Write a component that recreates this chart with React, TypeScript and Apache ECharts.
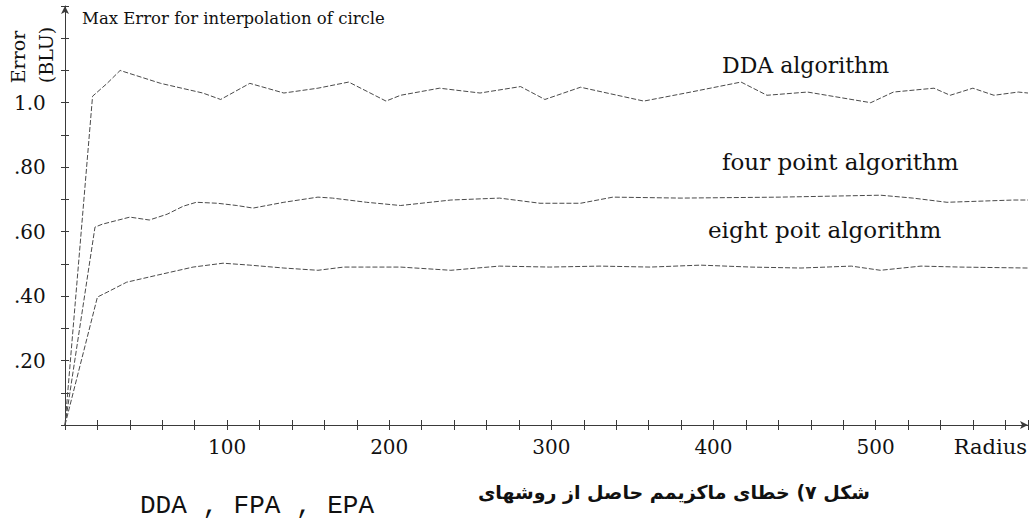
import React, { useEffect, useRef } from "react";
import * as echarts from "echarts";

// ---- data ----
const ddaRadius = [0, 17, 26, 34, 59, 85, 96, 114, 135, 156, 175, 198, 207, 231, 256, 281, 296, 318, 357, 386, 417, 433, 458, 497, 511, 536, 546, 560, 573, 588, 594];
const ddaError = [0, 1.02, 1.06, 1.1, 1.06, 1.03, 1.01, 1.06, 1.03, 1.045, 1.064, 1.005, 1.023, 1.045, 1.03, 1.05, 1.01, 1.048, 1.005, 1.033, 1.064, 1.023, 1.033, 1.0, 1.033, 1.045, 1.023, 1.045, 1.023, 1.033, 1.03];

const fpaRadius = [0, 18.5, 23, 40, 52, 63, 73, 81, 94, 106, 116, 135, 156, 165, 186, 207, 238, 268, 293, 318, 338, 380, 441, 503, 523, 544, 585, 594];
const fpaError = [0, 0.614, 0.623, 0.645, 0.636, 0.654, 0.679, 0.691, 0.688, 0.681, 0.673, 0.691, 0.707, 0.704, 0.691, 0.681, 0.698, 0.704, 0.688, 0.688, 0.707, 0.704, 0.707, 0.713, 0.704, 0.691, 0.698, 0.698];

const epaRadius = [0, 20, 26, 38, 57, 79, 97.5, 114, 135, 156, 172, 186, 207, 238, 268, 299, 330, 361, 392, 423, 454, 485, 503, 528, 552, 594];
const epaError = [0, 0.397, 0.412, 0.443, 0.465, 0.49, 0.502, 0.496, 0.487, 0.48, 0.49, 0.49, 0.49, 0.48, 0.493, 0.49, 0.493, 0.49, 0.496, 0.49, 0.487, 0.493, 0.48, 0.493, 0.49, 0.487];

const xLabelValues = [100, 200, 300, 400, 500];
const yLabelValues = [2, 4, 6, 8, 10]; // tenths
const yLabelTexts = [".20", ".40", ".60", ".80", "1.0"];

const titleText = "Max Error for interpolation of circle";
const yNameLines = ["Error", "(BLU)"];
const xName = "Radius";
const seriesNames = ["DDA algorithm", "four point algorithm", "eight poit algorithm"];
const captionFa = "شکل ۷) خطای ماکزیمم حاصل از روشهای";
const captionEn = "DDA , FPA , EPA";

const SERIF = "'DejaVu Serif', 'Liberation Serif', serif";

function pairs(xs: number[], ys: number[]) {
  return xs.map((x, i) => [x, ys[i]]);
}

export default function App() {
  const ref = useRef<HTMLDivElement>(null);
  useEffect(() => {
    if (!ref.current) return;
    const chart = echarts.init(ref.current, null, { renderer: "svg" });
    const lineStyle = { color: "#4a4a4a", width: 1, type: [5, 2] as any };
    const axisColor = "#3a3a3a";
    const common = { min: 0, type: "value" as const };
    chart.setOption({
      animation: false,
      backgroundColor: "#ffffff",
      title: {
        text: titleText,
        left: 77,
        top: 5,
        textStyle: { fontFamily: SERIF, fontSize: 16.5, fontWeight: "normal", color: "#111" },
      },
      grid: { left: 65, right: 5, top: 6, bottom: 100 },
      xAxis: [
        {
          ...common,
          max: 594,
          interval: 20,
          axisLine: { show: true, lineStyle: { color: axisColor, width: 1 }, symbol: ["none", "arrow"], symbolSize: [6, 8] },
          axisTick: { show: true, inside: false, length: 5, lineStyle: { color: axisColor } },
          splitLine: { show: false },
          axisLabel: {
            margin: 12,
            fontFamily: SERIF,
            fontSize: 20,
            color: "#111",
            formatter: (v: number) => (xLabelValues.indexOf(Math.round(v)) >= 0 ? String(Math.round(v)) : ""),
          },
        },
        {
          ...common,
          max: 594,
          interval: 20,
          position: "bottom",
          axisLine: { show: false },
          axisTick: { show: true, inside: true, length: 5, lineStyle: { color: axisColor } },
          splitLine: { show: false },
          axisLabel: { show: false },
        },
      ],
      yAxis: [
        {
          ...common,
          max: 1.3,
          interval: 0.1,
          axisLine: { show: true, lineStyle: { color: axisColor, width: 1 }, symbol: ["none", "arrow"], symbolSize: [6, 8] },
          axisTick: { show: true, inside: false, length: 4, lineStyle: { color: axisColor } },
          splitLine: { show: false },
          axisLabel: {
            margin: 51,
            align: "left",
            fontFamily: SERIF,
            fontSize: 20,
            color: "#111",
            formatter: (v: number) => {
              const i = yLabelValues.indexOf(Math.round(v * 10));
              return i >= 0 ? yLabelTexts[i] : "";
            },
          },
        },
        {
          ...common,
          max: 1.3,
          interval: 0.1,
          position: "left",
          axisLine: { show: false },
          axisTick: { show: true, inside: true, length: 4, lineStyle: { color: axisColor } },
          splitLine: { show: false },
          axisLabel: { show: false },
        },
      ],
      series: [
        { name: seriesNames[0], type: "line", data: pairs(ddaRadius, ddaError), showSymbol: false, symbol: "none", lineStyle },
        { name: seriesNames[1], type: "line", data: pairs(fpaRadius, fpaError), showSymbol: false, symbol: "none", lineStyle },
        { name: seriesNames[2], type: "line", data: pairs(epaRadius, epaError), showSymbol: false, symbol: "none", lineStyle },
      ],
      graphic: [
        { type: "text", x: 18, y: 57, rotation: Math.PI / 2, style: { text: yNameLines[0], fontFamily: SERIF, fontSize: 19, fill: "#111", textAlign: "center", textVerticalAlign: "middle" } },
        { type: "text", x: 46, y: 55, rotation: Math.PI / 2, style: { text: yNameLines[1], fontFamily: SERIF, fontSize: 19, fill: "#111", textAlign: "center", textVerticalAlign: "middle" } },
        { type: "text", x: 1027, y: 447, style: { text: xName, fontFamily: SERIF, fontSize: 21, fill: "#111", textAlign: "right", textVerticalAlign: "middle" } },
        { type: "text", x: 722, y: 65, style: { text: seriesNames[0], fontFamily: SERIF, fontSize: 22, fill: "#111", textAlign: "left", textVerticalAlign: "middle" } },
        { type: "text", x: 722, y: 162, style: { text: seriesNames[1], fontFamily: SERIF, fontSize: 23, fill: "#111", textAlign: "left", textVerticalAlign: "middle" } },
        { type: "text", x: 708, y: 230, style: { text: seriesNames[2], fontFamily: SERIF, fontSize: 23, fill: "#111", textAlign: "left", textVerticalAlign: "middle" } },
        { type: "text", x: 870, y: 492, style: { text: captionFa, fontFamily: "'DejaVu Sans', sans-serif", fontWeight: "bold", fontSize: 19, fill: "#111", textAlign: "right", textVerticalAlign: "middle" } },
        { type: "text", x: 140, y: 506, style: { text: captionEn, fontFamily: "'Liberation Mono', 'DejaVu Sans Mono', monospace", fontSize: 26, fill: "#111", textAlign: "left", textVerticalAlign: "middle" } },
      ],
    });
    return () => chart.dispose();
  }, []);
  return (
    <div
      ref={ref}
      style={{ position: "fixed", left: 0, top: 0, width: 1033, height: 525, background: "#fff" }}
    />
  );
}
